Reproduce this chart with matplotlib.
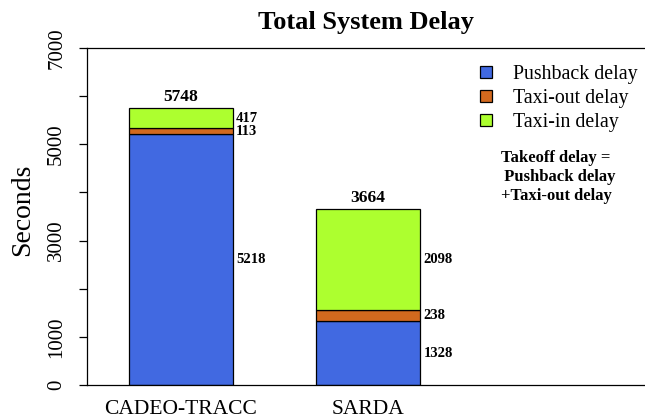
import matplotlib
matplotlib.use("Agg")
import matplotlib.pyplot as plt
import numpy as np
from matplotlib.patches import Patch

plt.rcParams['font.family'] = ['Liberation Serif', 'DejaVu Serif']

systems = ["CADEO-TRACC", "SARDA"]
pushback = [5218, 1328]
taxi_out = [113, 238]
taxi_in = [417, 2098]
totals = [5748, 3664]
series_names = ["Pushback delay", "Taxi-out delay", "Taxi-in delay"]
colors = ["#4169E1", "#D2691E", "#ADFF2F"]
yticks = [0, 1000, 2000, 3000, 4000, 5000, 6000, 7000]
ytick_labels = ["0", "1000", "", "3000", "", "5000", "", "7000"]

W, H = 645, 419
fig = plt.figure(figsize=(W / 100, H / 100), dpi=100)
ax = fig.add_axes([87 / W, (H - 385) / H, (W - 87) / W, (385 - 48) / H])

x = np.array([0.0, 1.8])
width = 1.0
series = [pushback, taxi_out, taxi_in]
bottom = np.zeros(2)
for vals, c in zip(series, colors):
    vals = np.array(vals, dtype=float)
    ax.bar(x, vals, width, bottom=bottom, color=c, edgecolor="black", linewidth=0.9)
    for xi, b, v in zip(x, bottom, vals):
        ax.text(xi + width / 2 + 0.03, b + v / 2, f"{int(v)}", ha="left", va="center",
                fontsize=10.5, fontweight="bold")
    bottom += vals

for xi, t in zip(x, totals):
    ax.annotate(f"{t}", (xi, t), xytext=(0, 2), textcoords="offset points",
                ha="center", va="bottom", fontsize=12.5, fontweight="bold")

ax.set_xlim(-0.904, -0.904 + 558 / 104)
ax.set_ylim(0, 7000)
ax.set_yticks(yticks)
ax.set_yticklabels(ytick_labels, rotation=90, va="center", fontsize=15)
ax.tick_params(axis="y", length=6, width=0.9, pad=9)
ax.set_xticks(x)
ax.set_xticklabels(systems, fontsize=15.5)
ax.tick_params(axis="x", length=0, pad=10.5)
ax.spines["right"].set_visible(False)
for s in ["left", "top", "bottom"]:
    ax.spines[s].set_linewidth(0.9)
ax.set_ylabel("Seconds", fontsize=20, labelpad=6)
ax.yaxis.set_label_coords(23 / W, 0.5, transform=fig.transFigure)
ax.yaxis.label.set_verticalalignment("center")

fig.text(366 / W, 1 - 22 / H, "Total System Delay", ha="center", va="center",
         fontsize=19, fontweight="bold")

handles = [Patch(facecolor=c, edgecolor="black", linewidth=0.9) for c in colors]
leg = ax.legend(handles, series_names, loc="upper left",
                bbox_to_anchor=(480 / W, 1 - 65 / H), bbox_transform=fig.transFigure,
                frameon=False, fontsize=14.3, handlelength=0.6, handleheight=0.6,
                handletextpad=1.05, labelspacing=0.25, borderpad=0, borderaxespad=0)

fig.text(556 / W, 1 - 177 / H, "Takeoff delay =\n  Pushback delay\n+Taxi-out delay",
         ha="center", va="center", multialignment="center", fontsize=12,
         fontweight="bold", linespacing=1.25)

fig.savefig("out.png", dpi=100)
